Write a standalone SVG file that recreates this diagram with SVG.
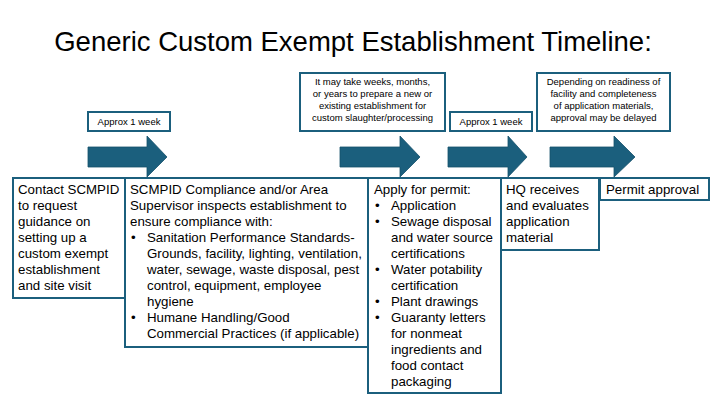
<svg xmlns="http://www.w3.org/2000/svg" width="720" height="405" viewBox="0 0 720 405">
<style>
.box{fill:#fff;stroke:#1b5f7d;stroke-width:2}
.arr{fill:#1b5f7d;stroke:#15506b;stroke-width:0.8}
.t{font-family:"Liberation Sans",Arial,sans-serif;font-size:13.3px;fill:#000}
.s{font-family:"Liberation Sans",Arial,sans-serif;font-size:9.5px;fill:#000;text-anchor:middle}
</style>
<rect width="720" height="405" fill="#fff"/>
<text x="353" y="51" font-family="Liberation Sans,Arial,sans-serif" font-size="27.5" text-anchor="middle">Generic Custom Exempt Establishment Timeline:</text>
<g id="connectors">
<path class="arr" d="M88,147H147V136L167,157L147,177V167H88Z"/>
<path class="arr" d="M340,147H400V136L420,157L400,177V167H340Z"/>
<path class="arr" d="M448,147H508V136L527,157L508,177V167H448Z"/>
<path class="arr" d="M550,147H614V136L635,157L614,177V167H550Z"/>
</g>
<g id="label1"><rect class="box" x="88" y="112" width="82" height="19"/><text class="s" x="129" y="125">Approx 1 week</text></g>
<g id="label2"><rect class="box" x="300" y="73" width="145" height="58"/>
<text class="s" x="372.5" y="85">It may take weeks, months,</text><text class="s" x="372.5" y="97">or years to prepare a new or</text><text class="s" x="372.5" y="109">existing establishment for</text><text class="s" x="372.5" y="121">custom slaughter/processing</text></g>
<g id="label3"><rect class="box" x="450" y="112" width="82" height="19"/><text class="s" x="491" y="125">Approx 1 week</text></g>
<g id="label4"><rect class="box" x="537" y="73" width="133" height="58"/>
<text class="s" x="603.5" y="85">Depending on readiness of</text><text class="s" x="603.5" y="97">facility and completeness</text><text class="s" x="603.5" y="109">of application materials,</text><text class="s" x="603.5" y="121">approval may be delayed</text></g>
<g id="step1"><rect class="box" x="13" y="178" width="112" height="120"/>
<text class="t" x="18" y="194">Contact SCMPID</text><text class="t" x="18" y="210">to request</text><text class="t" x="18" y="226">guidance on</text><text class="t" x="18" y="242">setting up a</text><text class="t" x="18" y="258">custom exempt</text><text class="t" x="18" y="274">establishment</text><text class="t" x="18" y="290">and site visit</text></g>
<g id="step2"><rect class="box" x="125" y="178" width="243" height="169"/>
<text class="t" x="130" y="194">SCMPID Compliance and/or Area</text><text class="t" x="130" y="210">Supervisor inspects establishment to</text><text class="t" x="130" y="226">ensure compliance with:</text>
<text class="t" x="131" y="242">•</text><text class="t" x="147" y="242">Sanitation Performance Standards-</text><text class="t" x="147" y="258">Grounds, facility, lighting, ventilation,</text><text class="t" x="147" y="274">water, sewage, waste disposal, pest</text><text class="t" x="147" y="290">control, equipment, employee</text><text class="t" x="147" y="306">hygiene</text>
<text class="t" x="131" y="322">•</text><text class="t" x="147" y="322">Humane Handling/Good</text><text class="t" x="147" y="338">Commercial Practices (if applicable)</text></g>
<g id="step3"><rect class="box" x="368" y="178" width="133" height="215"/>
<text class="t" x="374" y="194">Apply for permit:</text>
<text class="t" x="375" y="210">•</text><text class="t" x="391" y="210">Application</text>
<text class="t" x="375" y="226">•</text><text class="t" x="391" y="226">Sewage disposal</text><text class="t" x="391" y="242">and water source</text><text class="t" x="391" y="258">certifications</text>
<text class="t" x="375" y="274">•</text><text class="t" x="391" y="274">Water potability</text><text class="t" x="391" y="290">certification</text>
<text class="t" x="375" y="306">•</text><text class="t" x="391" y="306">Plant drawings</text>
<text class="t" x="375" y="322">•</text><text class="t" x="391" y="322">Guaranty letters</text><text class="t" x="391" y="338">for nonmeat</text><text class="t" x="391" y="354">ingredients and</text><text class="t" x="391" y="370">food contact</text><text class="t" x="391" y="386">packaging</text></g>
<g id="step4"><rect class="box" x="501" y="178" width="98" height="72"/>
<text class="t" x="506" y="194">HQ receives</text><text class="t" x="506" y="210">and evaluates</text><text class="t" x="506" y="226">application</text><text class="t" x="506" y="242">material</text></g>
<g id="step5"><rect class="box" x="600" y="178" width="109" height="22"/>
<text class="t" x="606" y="194">Permit approval</text></g>
</svg>
